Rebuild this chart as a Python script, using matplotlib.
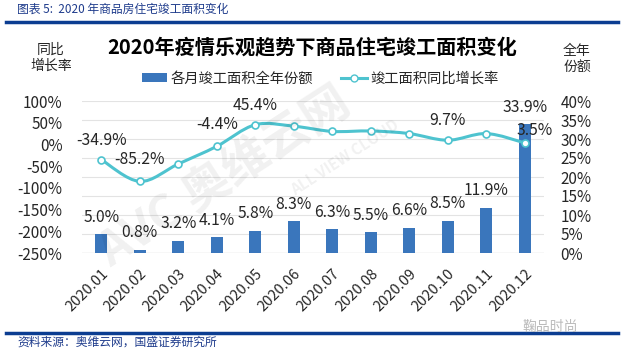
import numpy as np
import matplotlib
matplotlib.use('Agg')
from matplotlib import pyplot as plt
from matplotlib.path import Path
from matplotlib.patches import PathPatch
from matplotlib.lines import Line2D
from matplotlib.patches import Patch

plt.rcParams['font.family'] = ['Noto Sans CJK SC', 'DejaVu Sans']

months = ['2020.01', '2020.02', '2020.03', '2020.04', '2020.05', '2020.06',
          '2020.07', '2020.08', '2020.09', '2020.10', '2020.11', '2020.12']
share = [5.0, 0.8, 3.2, 4.1, 5.8, 8.3, 6.3, 5.5, 6.6, 8.5, 11.9, 33.9]
yoy = [-34.9, -85.2, -45.0, -4.4, 45.4, 42.0, 30.0, 31.0, 25.0, 9.7, 25.0, 3.5]
yoy_labeled = [0, 1, 3, 4, 9, 11]
left_ticks = [-250, -200, -150, -100, -50, 0, 50, 100]
right_ticks = [0, 5, 10, 15, 20, 25, 30, 35, 40]

blue = '#3A76BC'
teal = '#4EC3CF'
dark_blue = '#0B3D91'
txt = '#262626'

fig = plt.figure(figsize=(6.32, 3.56), dpi=100)
fig.patch.set_facecolor('white')

# header / footer decorations
fig.text(17/632, 1-9/356, '图表 5:  2020 年商品房住宅竣工面积变化', fontsize=8.5,
         color='#1F3C8C', style='italic', va='center', ha='left')
fig.add_artist(Line2D([6/632, 618/632], [1-22/356]*2, color=dark_blue, lw=2.5))
fig.add_artist(Line2D([6/632, 618/632], [1-333/356]*2, color=dark_blue, lw=2.5))
fig.text(17/632, 1-342/356, '资料来源：奥维云网，国盛证券研究所', fontsize=8.5,
         color='#1F3C8C', style='italic', va='center', ha='left')
fig.text(522/632, 1-327/356, '鞠品时尚', fontsize=10, color='#BBBBBB',
         va='center', ha='left')

fig.text(312/632, 1-47/356, '2020年疫情乐观趋势下商品住宅竣工面积变化', fontsize=14.5,
         fontweight='bold', color='black', ha='center', va='center')
fig.text(51/632, 1-58/356, '同比\n增长率', fontsize=10, color=txt, ha='center',
         va='center', linespacing=1.15)
fig.text(577/632, 1-59/356, '全年\n份额', fontsize=10, color=txt, ha='center',
         va='center', linespacing=1.15)

# watermark
fig.text(225/632, 1-178/356, 'AVC 奥维云网', fontsize=34, fontweight='bold',
         color='#000000', alpha=0.06, rotation=33, ha='center', va='center')
fig.text(345/632, 1-158/356, 'ALL VIEW CLOUD', fontsize=11, fontweight='bold',
         color='#000000', alpha=0.06, rotation=33, ha='center', va='center')

ax = fig.add_axes([82/632, 1-253/356, 462/632, 152/356])
ax2 = ax.twinx()

x = np.arange(len(months))
ax.bar(x, share, width=0.32, color=blue, zorder=2)
ax.set_xlim(-0.5, len(months)-0.5)
ax.set_ylim(0, 40)
ax.yaxis.tick_right()
ax.set_yticks(right_ticks)
ax.set_yticklabels([f'{t}%' for t in right_ticks])
ax.grid(axis='y', color='#E3E3E3', lw=0.8, zorder=0)
for s in ax.spines.values():
    s.set_visible(False)
ax.axhline(0, color='#D0D0D0', lw=0.9, zorder=1)
ax.tick_params(axis='y', length=0, pad=12, labelsize=11, labelcolor=txt)
ax.set_xticks(x)
ax.set_xticklabels(months, rotation=45, ha='right', va='top',
                   rotation_mode='anchor')
ax.tick_params(axis='x', length=0, pad=10, labelsize=10.5, labelcolor=txt)
for i, v in enumerate(share):
    ax.annotate(f'{v:.1f}%', (i, v), xytext=(0, 17), textcoords='offset pixels',
                ha='center', va='center', fontsize=11.3, color=txt, zorder=5)

ax2.set_ylim(-250, 100)
ax2.yaxis.tick_left()
ax2.set_yticks(left_ticks)
ax2.set_yticklabels([f'{t}%' for t in left_ticks])
ax2.tick_params(axis='y', length=0, pad=14, labelsize=11, labelcolor=txt)
for s in ax2.spines.values():
    s.set_visible(False)

# smoothed line like Excel (bezier through the data points)
pts = np.column_stack([x, yoy]).astype(float)
verts = [tuple(pts[0])]
codes = [Path.MOVETO]
t = 1/6
for i in range(len(pts)-1):
    p0 = pts[max(i-1, 0)]
    p1 = pts[i]
    p2 = pts[i+1]
    p3 = pts[min(i+2, len(pts)-1)]
    c1 = p1 + (p2 - p0) * t
    c2 = p2 - (p3 - p1) * t
    verts += [tuple(c1), tuple(c2), tuple(p2)]
    codes += [Path.CURVE4]*3
ax2.add_patch(PathPatch(Path(verts, codes), facecolor='none', edgecolor=teal,
                        lw=2.2, zorder=3))
ax2.plot(x, yoy, linestyle='none', marker='o', ms=5, mfc='white', mec=teal,
         mew=1.2, zorder=4)
offsets = {0: (0, 19), 1: (0, 22), 3: (0, 22), 4: (0, 19), 9: (0, 20), 11: (10, 12)}
for i in yoy_labeled:
    ax2.annotate(f'{yoy[i]:.1f}%', (i, yoy[i]), xytext=offsets[i],
                 textcoords='offset pixels', ha='center', va='center',
                 fontsize=11.3, color=txt, zorder=5)

handles = [Patch(facecolor=blue), Line2D([], [], color=teal, lw=2.2, marker='o',
                                         ms=5, mfc='white', mec=teal)]
fig.legend(handles, ['各月竣工面积全年份额', '竣工面积同比增长率'], loc='center',
           bbox_to_anchor=(320/632, 1-79/356), ncol=2, frameon=False, fontsize=10.3,
           handlelength=1.8, handleheight=0.6, columnspacing=2.0, handletextpad=0.2,
           labelcolor=txt)

fig.savefig('out.png', dpi=100, facecolor='white')
